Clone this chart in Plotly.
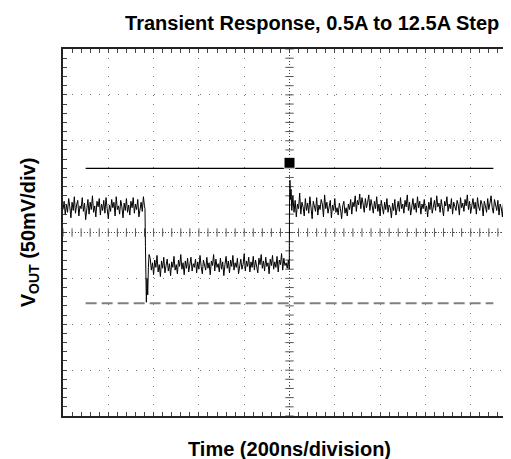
import numpy as np
import plotly.graph_objects as go

# ---- data (time in ns, voltage deviation in mV) ----
# region before the load step (high level), 5 ns samples
time_a = list(range(0, 361, 5))
volt_a = [25, 34, 19, 31, 22, 37, 28, 16, 33, 24,
          39, 21, 30, 35, 18, 29, 26, 38, 23, 32,
          14, 27, 36, 20, 33, 25, 40, 22, 29, 17,
          34, 28, 37, 19, 31, 24, 35, 21, 38, 26,
          15, 30, 23, 36, 27, 33, 18, 39, 25, 29,
          20, 35, 28, 16, 32, 24, 37, 22, 30, 19,
          34, 27, 38, 21, 31, 25, 36, 17, 29, 33,
          23, 39, 28]
# falling edge / undershoot
time_e1 = [362, 364, 366, 368, 371, 374, 377, 380]
volt_e1 = [26, -15, -60, -76, -50, -68, -38, -24]
# loaded region (low level)
time_b = list(range(385, 996, 5))
volt_b = [-28, -41, -33, -46, -30, -38, -25, -43, -35, -48,
          -31, -39, -27, -44, -36, -29, -42, -34, -47, -32,
          -38, -26, -41, -35, -45, -30, -37, -24, -40, -33,
          -46, -31, -39, -28, -43, -36, -27, -42, -34, -38,
          -29, -44, -32, -40, -25, -37, -45, -30, -35, -41,
          -27, -39, -33, -46, -31, -36, -24, -42, -29, -38,
          -34, -43, -28, -40, -32, -47, -35, -26, -39, -31,
          -44, -30, -37, -25, -41, -33, -38, -28, -45, -34,
          -29, -40, -35, -23, -42, -31, -37, -27, -43, -32,
          -38, -26, -41, -30, -36, -44, -28, -35, -24, -39,
          -31, -42, -27, -37, -33, -45, -29, -36, -25, -40,
          -32, -38, -26, -43, -30, -35, -23, -41, -28, -36,
          -33, -39, -30]
# rising edge / overshoot
time_e2 = [997, 999, 1000, 1002, 1004, 1007, 1010]
volt_e2 = [-36, -40, 30, 57, 36, 47, 24]
# region after load release (high level)
time_c = list(range(1015, 2001, 5))
volt_c = [40, 22, 35, 17, 31, 26, 43, 20, 33, 28,
          18, 37, 24, 32, 21, 39, 27, 15, 34, 29,
          23, 38, 19, 30, 25, 36, 31, 17, 41, 26,
          33, 21, 28, 35, 16, 30, 24, 37, 22, 27,
          19, 32, 26, 15, 29, 34, 21, 27, 18, 31,
          25, 36, 20, 33, 28, 40, 23, 35, 30, 42,
          26, 38, 31, 22, 37, 27, 33, 41, 24, 36,
          29, 21, 34, 26, 39, 23, 31, 18, 35, 28,
          20, 33, 25, 37, 22, 30, 27, 16, 32, 24,
          36, 19, 29, 34, 23, 38, 26, 31, 21, 35,
          28, 41, 24, 33, 19, 30, 37, 25, 32, 22,
          39, 27, 34, 20, 31, 26, 36, 23, 29, 17,
          33, 25, 38, 21, 30, 35, 24, 40, 28, 32,
          22, 36, 27, 18, 34, 29, 39, 23, 31, 26,
          37, 20, 33, 28, 24, 35, 30, 19, 38, 27,
          32, 23, 36, 29, 41, 25, 34, 21, 30, 37,
          26, 33, 20, 38, 28, 24, 35, 31, 18, 34,
          29, 22, 37, 25, 32, 40, 27, 21, 36, 30,
          24, 35, 19, 31, 27, 17, 33, 22, 28, 15,
          30, 20, 26, 18, 32, 23, 25, 21]

# limit lines
limit_time = [100, 1900]
upper_limit = 70
lower_limit = -77
# trigger marker and channel marker
trigger_time = 1000
trigger_level = 76
channel_marker_time = [1972, 2000]
channel_marker_level = 22

t_all = time_a + time_e1 + time_b + time_e2 + time_c
v_all = volt_a + volt_e1 + volt_b + volt_e2 + volt_c

X_RANGE = [0, 2000]
Y_RANGE = [-200, 200]
GRAT = "#555555"

fig = go.Figure()

# centre-line cross ticks (scope graticule)
xt = np.arange(X_RANGE[0], X_RANGE[1] + 1, 40)
yt = np.arange(Y_RANGE[0], Y_RANGE[1] + 1, 10)
fig.add_trace(go.Scatter(x=xt, y=[0] * len(xt), mode="markers", hoverinfo="skip",
                         marker=dict(symbol="line-ns-open", size=6, color=GRAT,
                                     line=dict(color=GRAT, width=1))))
fig.add_trace(go.Scatter(x=[1000] * len(yt), y=yt, mode="markers", hoverinfo="skip",
                         marker=dict(symbol="line-ew-open", size=6, color=GRAT,
                                     line=dict(color=GRAT, width=1))))

# limit lines
fig.add_trace(go.Scatter(x=limit_time, y=[upper_limit] * 2, mode="lines",
                         line=dict(color="black", width=1.2)))
fig.add_trace(go.Scatter(x=limit_time, y=[lower_limit] * 2, mode="lines",
                         line=dict(color="#808080", width=2, dash="11px,5px")))

# waveform
fig.add_trace(go.Scatter(x=t_all, y=v_all, mode="lines",
                         line=dict(color="black", width=1)))

# trigger marker
fig.add_trace(go.Scatter(x=[trigger_time], y=[trigger_level], mode="markers",
                         marker=dict(symbol="square", size=11, color="black",
                                     line=dict(color="white", width=1))))
# channel ground marker
fig.add_trace(go.Scatter(x=channel_marker_time, y=[channel_marker_level] * 2,
                         mode="lines+markers",
                         line=dict(color="black", width=1.5),
                         marker=dict(symbol=["triangle-left", "circle"], size=[7, 0],
                                     color="black")))

# centre dotted lines
fig.add_shape(type="line", x0=1000, x1=1000, y0=Y_RANGE[0], y1=Y_RANGE[1],
              line=dict(color="#444", width=1, dash="1px,2px"), layer="below")
fig.add_shape(type="line", x0=X_RANGE[0], x1=X_RANGE[1], y0=0, y1=0,
              line=dict(color="#444", width=1, dash="1px,2px"), layer="below")

font_family = "Liberation Sans, Arial, sans-serif"

axis_common = dict(showticklabels=False, showgrid=True, gridcolor="#777", gridwidth=1,
                   griddash="1px,8.1px", zeroline=False, showline=True,
                   linecolor="#222", linewidth=1.5, mirror="allticks",
                   ticks="inside", ticklen=4, tickcolor="#444", tickwidth=1)

fig.update_xaxes(range=X_RANGE, tick0=0, dtick=200,
                 minor=dict(ticks="inside", ticklen=4, dtick=40, tickcolor="#444",
                            showgrid=False),
                 title=dict(text="<b>Time (200ns/division)</b>", standoff=25,
                            font=dict(family=font_family, size=20, color="black")),
                 **axis_common)
fig.update_yaxes(range=Y_RANGE, tick0=0, dtick=50,
                 minor=dict(ticks="inside", ticklen=4, dtick=10, tickcolor="#444",
                            showgrid=False),
                 title=dict(text="<b>V<sub>OUT</sub> (50mV/div)</b>", standoff=20,
                            font=dict(family=font_family, size=20, color="black")),
                 **axis_common)

fig.update_layout(
    width=511, height=459,
    margin=dict(l=55, r=1, t=41, b=51),
    plot_bgcolor="white", paper_bgcolor="white",
    showlegend=False,
    title=dict(text="<b>Transient Response, 0.5A to 12.5A Step</b>",
               x=0.55, xref="paper", xanchor="center",
               y=1 - 15 / 459, yref="container", yanchor="middle",
               font=dict(family=font_family, size=20, color="black")),
)

fig.write_html("out.html")
